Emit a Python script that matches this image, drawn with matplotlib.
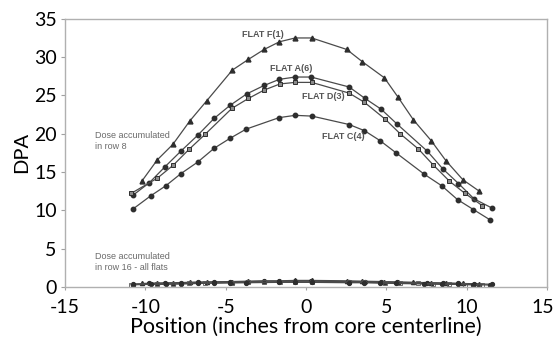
import numpy as np
import matplotlib
matplotlib.use("Agg")
from matplotlib import pyplot as plt
from matplotlib import transforms

plt.rcParams["axes.unicode_minus"] = False

# flat F(1) - triangles
x_f = [-10.22, -9.25, -8.29, -7.22, -6.18, -4.59, -3.59, -2.61, -1.66, -0.68,
       0.35, 2.53, 3.50, 4.87, 5.71, 6.68, 7.78, 8.69, 9.75, 10.77]
y_f = [13.8, 16.6, 18.6, 21.7, 24.3, 28.3, 29.7, 31.0, 32.0, 32.5,
       32.5, 31.0, 29.4, 27.3, 24.8, 21.8, 19.1, 16.5, 14.0, 12.5]

# flat A(6) - circles
x_a = [-10.75, -9.75, -8.77, -7.80, -6.74, -5.72, -4.73, -3.69, -2.61, -1.66, -0.68,
       0.31, 2.68, 3.67, 4.67, 5.64, 7.55, 8.51, 9.48, 10.45, 11.56]
y_a = [12.0, 13.6, 15.7, 17.7, 19.8, 22.0, 23.7, 25.2, 26.3, 27.1, 27.4,
       27.4, 26.1, 24.6, 23.2, 21.3, 17.7, 15.4, 13.5, 11.5, 10.3]

# flat D(3) - squares
x_d = [-10.89, -9.25, -8.26, -7.26, -6.29, -4.62, -3.59, -2.61, -1.62, -0.68,
       0.35, 2.68, 3.63, 4.92, 5.85, 6.99, 7.92, 8.92, 9.89, 10.97]
y_d = [12.2, 14.2, 15.9, 18.0, 19.9, 23.3, 24.6, 25.7, 26.5, 26.7,
       26.7, 25.3, 24.1, 21.9, 20.0, 18.0, 15.9, 13.8, 12.2, 10.6]

# flat C(4) - circles
x_c = [-10.75, -9.66, -8.73, -7.78, -6.74, -5.72, -4.73, -3.73, -1.68, -0.68,
       0.37, 2.68, 3.63, 4.60, 5.60, 7.36, 8.44, 9.42, 10.41, 11.41]
y_c = [10.2, 11.9, 13.2, 14.8, 16.3, 18.1, 19.4, 20.6, 22.1, 22.4,
       22.3, 21.2, 20.4, 19.1, 17.5, 14.7, 13.2, 11.4, 10.1, 8.8]

# row 16 doses (all flats), near zero
y_f_low = [0.45, 0.5, 0.55, 0.6, 0.65, 0.7, 0.75, 0.8, 0.8, 0.85,
           0.85, 0.8, 0.75, 0.7, 0.65, 0.6, 0.55, 0.5, 0.45, 0.4]
y_a_low = [0.4, 0.45, 0.5, 0.55, 0.6, 0.65, 0.7, 0.7, 0.75, 0.75, 0.75,
           0.75, 0.7, 0.7, 0.65, 0.6, 0.55, 0.5, 0.45, 0.4, 0.35]
y_d_low = [0.3, 0.35, 0.4, 0.45, 0.5, 0.55, 0.6, 0.6, 0.65, 0.65,
           0.65, 0.6, 0.6, 0.55, 0.5, 0.45, 0.4, 0.35, 0.3, 0.3]
y_c_low = [0.3, 0.35, 0.35, 0.4, 0.45, 0.5, 0.55, 0.55, 0.6, 0.6,
           0.6, 0.55, 0.55, 0.5, 0.45, 0.4, 0.35, 0.35, 0.3, 0.25]

line_col = "#4a4a4a"
mk_col = "#2e2e2e"

fig = plt.figure(figsize=(5.55, 3.42), dpi=100)
ax = fig.add_axes([0.117, 0.161, 0.869, 0.784])

kw = dict(color=line_col, lw=0.9)
ax.plot(x_f, y_f, marker="^", ms=3.5, mfc=mk_col, mec=mk_col, **kw)
ax.plot(x_a, y_a, marker="o", ms=3.2, mfc=mk_col, mec=mk_col, **kw)
ax.plot(x_d, y_d, marker="s", ms=3.5, mfc="#8a8a8a", mec=mk_col, mew=0.7, **kw)
ax.plot(x_c, y_c, marker="o", ms=3.2, mfc=mk_col, mec=mk_col, **kw)

ax.plot(x_f, y_f_low, marker="^", ms=3, mfc=mk_col, mec=mk_col, **kw)
ax.plot(x_a, y_a_low, marker="o", ms=2.8, mfc=mk_col, mec=mk_col, **kw)
ax.plot(x_d, y_d_low, marker="s", ms=3, mfc="none", mec="#555555", mew=0.6, **kw)
ax.plot(x_c, y_c_low, marker="o", ms=2.8, mfc=mk_col, mec=mk_col, **kw)

lab = dict(fontsize=6.5, fontweight="bold", color="#555555", family="Liberation Sans",
           ha="center", va="center")
ax.text(-2.7, 33.0, "FLAT F(1)", **lab)
ax.text(-0.93, 28.5, "FLAT A(6)", **lab)
ax.text(1.06, 24.8, "FLAT D(3)", **lab)
ax.text(2.33, 19.6, "FLAT C(4)", **lab)

note = dict(fontsize=6.5, color="#6a6a6a", family="Liberation Sans", ha="left", va="center",
            linespacing=1.3)
ax.text(-13.15, 19.0, "Dose accumulated\nin row 8", **note)
ax.text(-13.15, 3.3, "Dose accumulated\nin row 16 - all flats", **note)

ax.set_xlim(-15, 15)
ax.set_ylim(0, 35)
ax.set_xticks(np.arange(-15, 16, 5))
ax.set_yticks(np.arange(0, 36, 5))
ax.set_xlabel("Position (inches from core centerline)", fontsize=15.5, family="Lato", labelpad=0)
ax.set_ylabel("DPA", fontsize=14.5, family="Lato", labelpad=3)
for t in ax.get_xticklabels() + ax.get_yticklabels():
    t.set_family("Lato")
    t.set_fontsize(14)
ax.tick_params(axis="y", length=3, width=0.8, color="#a0a0a0", direction="out", pad=3)
ax.tick_params(axis="x", length=2, width=0.8, color="#a0a0a0", direction="out", pad=7)

# keep the last x label inside the figure
last = ax.get_xticklabels()[-1]
last.set_transform(last.get_transform() + transforms.ScaledTranslation(-4 / 100, 0, fig.dpi_scale_trans))

for s in ax.spines.values():
    s.set_color("#b0b0b0")
    s.set_linewidth(1.0)

fig.savefig("out.png", dpi=100)
